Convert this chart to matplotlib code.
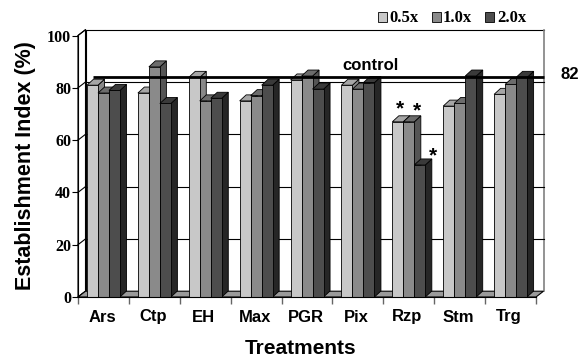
import matplotlib
matplotlib.use('Agg')
import matplotlib.pyplot as plt
from matplotlib.patches import Polygon, Rectangle

categories = ['Ars', 'Ctp', 'EH', 'Max', 'PGR', 'Pix', 'Rzp', 'Stm', 'Trg']
series_names = ['0.5x', '1.0x', '2.0x']
v05 = [81, 78, 84, 75, 83, 81, 67, 73, 77.5]
v10 = [78, 88, 75, 77, 84.5, 79.5, 67, 74, 81.3]
v20 = [79, 74, 76, 81, 79.5, 82, 50.5, 84.5, 84]
control_value = 82
yticks = [0, 20, 40, 60, 80, 100]
star_marks = [(6, 0), (6, 1), (6, 2)]   # (category index, series index)

series = [v05, v10, v20]
front_c = ['#c8c8c8', '#8a8a8a', '#4d4d4d']
top_c = ['#a6a6a6', '#6c6c6c', '#3a3a3a']
side_c = ['#888888', '#555555', '#262626']

W, H = 585, 360
fig = plt.figure(figsize=(W / 100, H / 100), dpi=100)
ax_l, ax_r, ax_t, ax_b = 78, 536, 35.5, 297
ax = fig.add_axes([ax_l / W, (H - ax_b) / H, (ax_r - ax_l) / W, (ax_b - ax_t) / H])
n = len(categories)
ax.set_xlim(0, n)
ax.set_ylim(0, 100)
ppx = (ax_r - ax_l) / n
ppy = (ax_b - ax_t) / 100

wdx, wdy = 7.5 / ppx, 5.8 / ppy     # wall depth
bdx, bdy = 6.5 / ppx, 6.0 / ppy     # bar depth
bw = 11 / ppx
boff = 9 / ppx

lw = 0.8
# left wall
ax.add_patch(Polygon([(0, 0), (wdx, wdy), (wdx, 100 + wdy), (0, 100)], closed=True,
                     facecolor='white', edgecolor='black', lw=lw, clip_on=False, zorder=1))
# back wall
ax.add_patch(Rectangle((wdx, wdy), n, 100, facecolor='white', edgecolor='none',
                       clip_on=False, zorder=1))
ax.plot([wdx, wdx, n + wdx], [wdy, 100 + wdy, 100 + wdy], color='black', lw=lw,
        clip_on=False, zorder=1.5)
ax.plot([n + wdx, n + wdx], [wdy, 100 + wdy], color='#808080', lw=1.2,
        clip_on=False, zorder=1.5)
for v in yticks[1:-1]:
    ax.plot([wdx, n + wdx], [v + wdy, v + wdy], color='black', lw=lw, clip_on=False, zorder=1.5)
for v in yticks:
    ax.plot([0, wdx], [v, v + wdy], color='black', lw=lw, clip_on=False, zorder=1.5)
# floor
ax.add_patch(Polygon([(0, 0), (n, 0), (n + wdx, wdy), (wdx, wdy)], closed=True,
                     facecolor='#9a9a9a', edgecolor='black', lw=lw, clip_on=False, zorder=2))

# bars
for i in range(n):
    for j, vals in enumerate(series):
        x0 = i + boff + j * bw
        x1 = x0 + bw
        h = vals[i]
        ax.add_patch(Polygon([(x1, 0), (x1 + bdx, bdy), (x1 + bdx, h + bdy), (x1, h)],
                             closed=True, facecolor=side_c[j], edgecolor='black',
                             lw=0.6, clip_on=False, zorder=3))
        ax.add_patch(Polygon([(x0, h), (x1, h), (x1 + bdx, h + bdy), (x0 + bdx, h + bdy)],
                             closed=True, facecolor=top_c[j], edgecolor='black',
                             lw=0.6, clip_on=False, zorder=3))
        ax.add_patch(Rectangle((x0, 0), bw, h, facecolor=front_c[j], edgecolor='black',
                               lw=0.6, clip_on=False, zorder=3))

# control line
ax.plot([15 / ppx, n + wdx], [control_value + wdy] * 2, color='black', lw=2,
        solid_capstyle='butt', clip_on=False, zorder=5)
ax.text(5.74, (ax_b - 70) / ppy, 'control', ha='center', va='baseline',
        fontsize=12, fontweight='bold', family='Liberation Sans', zorder=6)
ax.text((570 - ax_l) / ppx, (ax_b - 79) / ppy, str(control_value), ha='center',
        va='baseline', fontsize=12, fontweight='bold', family='Liberation Sans',
        clip_on=False)

# significance stars
star_dx = [0.04, 0.16, 0.26]
star_dy = [7.0, 6.4, 5.7]
for k, (ci, sj) in enumerate(star_marks):
    bx = ci + boff + sj * bw + bw / 2 + star_dx[k]
    by = series[sj][ci] + star_dy[k]
    ax.text(bx, by - 4.3, '*', ha='center', va='baseline', fontsize=15,
            fontweight='bold', family='Liberation Sans', zorder=6)

# axes / ticks
for s in ['top', 'right']:
    ax.spines[s].set_visible(False)
ax.spines['left'].set_linewidth(lw)
ax.spines['bottom'].set_linewidth(lw)
ax.spines['left'].set_zorder(4)
ax.spines['bottom'].set_zorder(4)
ax.set_yticks(yticks)
ax.set_yticklabels([str(t) for t in yticks], fontsize=11.5, fontweight='bold',
                   family='Liberation Serif')
ax.tick_params(axis='y', direction='out', length=4, width=lw, pad=1)
ax.set_xticks(range(n + 1))
ax.set_xticklabels([''] * (n + 1))
ax.tick_params(axis='x', which='major', direction='out', length=5, width=1, color='#666666')
ax.set_xticks([i + 0.47 for i in range(n)], minor=True)
ax.set_xticklabels(categories, minor=True, fontsize=12, fontweight='bold',
                   family='Liberation Sans')
ax.tick_params(axis='x', which='minor', length=0, pad=9)
ax.set_facecolor('none')

fig.text(26 / W, 1 - 166 / H, 'Establishment Index (%)', rotation=90, ha='center',
         va='center', fontsize=15.5, fontweight='bold', family='Liberation Sans')
fig.text(301 / W, 1 - 354 / H, 'Treatments', ha='center', va='baseline',
         fontsize=15, fontweight='bold', family='Liberation Sans')

# legend
leg = [(378, 389), (432, 443), (485, 497)]
for j, (px, tx) in enumerate(leg):
    fig.add_artist(Rectangle((px / W, 1 - 21.5 / H), 9 / W, 9 / H, transform=fig.transFigure,
                             facecolor=front_c[j], edgecolor='black', lw=0.6))
    fig.text(tx / W, 1 - 22 / H, series_names[j], ha='left', va='baseline', fontsize=12,
             fontweight='bold', family='Liberation Serif')

fig.savefig('out.png', dpi=100)
